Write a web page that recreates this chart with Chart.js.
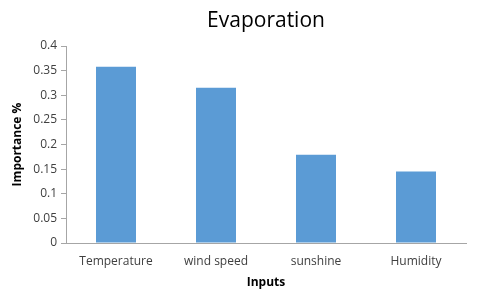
<!DOCTYPE html>
<html><head><meta charset="utf-8">
<script src="https://cdn.jsdelivr.net/npm/chart.js@4"></script>
<style>html,body{margin:0;padding:0;background:#fff}#wrap{width:480px;height:291px}</style>
</head><body><div id="wrap"><canvas id="c" width="480" height="291"></canvas></div>
<script>
const categories = ["Temperature", "wind speed", "sunshine", "Humidity"];
const importance = [0.358, 0.315, 0.179, 0.145];
const yTicks = [0, 0.05, 0.1, 0.15, 0.2, 0.25, 0.3, 0.35, 0.4];
const chartTitle = "Evaporation";

const FONT = "'Open Sans', sans-serif";
const titlePlugin = {
  id: 'centerTitle',
  afterDraw(chart) {
    const ctx = chart.ctx, a = chart.chartArea;
    ctx.save();
    ctx.font = "21px " + FONT;
    ctx.fillStyle = "#000";
    ctx.textAlign = "center";
    ctx.textBaseline = "alphabetic";
    ctx.fillText(chartTitle, (a.left + a.right) / 2, 27);
    ctx.restore();
  }
};

new Chart(document.getElementById('c'), {
  type: 'bar',
  data: { labels: categories, datasets: [{ data: importance, backgroundColor: '#5b9bd5', barPercentage: 0.4, categoryPercentage: 1 }] },
  options: {
    responsive: false, animation: false,
    layout: { padding: { top: 46, right: 14, left: 0, bottom: 0 } },
    plugins: { legend: { display: false }, title: { display: false }, tooltip: { enabled: false } },
    scales: {
      x: {
        grid: { display: false },
        border: { display: true, color: '#a6a6a6', width: 1 },
        ticks: { color: '#404040', font: { family: FONT, size: 12 }, padding: 3, maxRotation: 0 },
        title: { display: true, text: 'Inputs', color: '#000', font: { family: FONT, size: 12, weight: 'bold' }, padding: { top: 4, bottom: 1 } },
        afterFit(s) { s.height = 48; }
      },
      y: {
        min: 0, max: 0.4,
        afterBuildTicks(s) { s.ticks = yTicks.map(v => ({ value: v })); },
        grid: { display: true, drawOnChartArea: false, drawTicks: true, tickLength: 5, color: '#a6a6a6' },
        border: { display: true, color: '#a6a6a6', width: 1 },
        ticks: { color: '#404040', font: { family: FONT, size: 12 }, padding: 4, callback: v => String(v) },
        title: { display: true, text: 'Importance %', color: '#000', font: { family: FONT, size: 12, weight: 'bold' }, padding: { top: 10, bottom: 4 } },
        afterFit(s) { s.width = 66; }
      }
    }
  },
  plugins: [titlePlugin]
});
</script></body></html>
